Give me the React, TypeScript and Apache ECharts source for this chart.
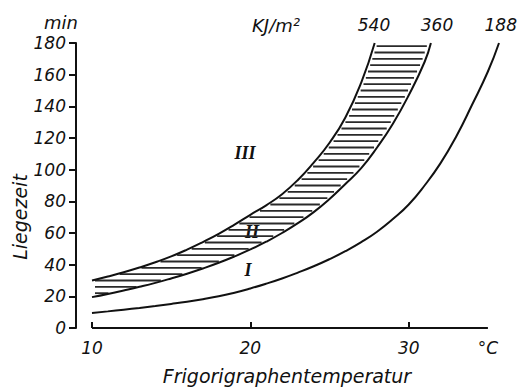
import React, { useEffect, useRef } from "react";
import * as echarts from "echarts";

// Curve data: temperature (°C) -> Liegezeit (min)
const TEMP_540 = [10, 11, 12, 13, 14, 15, 16, 17, 18, 19, 20, 21, 22, 23, 24, 25, 26, 27, 27.85];
const TIME_540 = [30, 32.5, 35.2, 38.2, 41.5, 45.2, 49.5, 54.3, 59.5, 65.3, 71.5, 77.5, 84.5, 93.5, 104.5, 117, 133, 155, 180];

const TEMP_360 = [10, 11, 12, 13, 14, 15, 16, 17, 18, 19, 20, 21, 22, 23, 24, 25, 26, 27, 28, 29, 30, 31, 31.4];
const TIME_360 = [19.5, 21.5, 23.7, 26, 28.5, 31.3, 34.3, 37.6, 41.2, 45.2, 49.6, 54.5, 60, 66.2, 73.2, 81.5, 91, 101, 114, 129, 147, 168, 180];

const TEMP_188 = [10, 11, 12, 13, 14, 15, 16, 17, 18, 19, 20, 21, 22, 23, 24, 25, 26, 27, 28, 29, 30, 31, 32, 33, 34, 35, 35.7];
const TIME_188 = [9.5, 10.5, 11.6, 12.7, 13.9, 15.2, 16.6, 18.2, 20, 22.3, 25, 28, 31.3, 35, 39, 43.5, 48.5, 54.2, 60.8, 68.8, 78, 90, 104, 121, 141, 162, 180];

// Axis extents
const X_MIN = 10;
const X_AXIS_END = 35;
const X_MAX = 35.7;
const X_TICKS = [10, 20, 30];
const Y_MIN = 0;
const Y_MAX = 180;
const Y_STEP = 20;

const CURVE_NAMES = ["540", "360", "188"];
const REGION_LABELS = ["III", "II", "I"];

const INK = "#111";
const FONT = "DejaVu Sans";

const HATCH_FROM = 22;
const HATCH_TO = 178;
const HATCH_STEP = 4;

function invert(xs: number[], ys: number[], y: number): number {
  if (y <= ys[0]) return xs[0];
  for (let i = 1; i < ys.length; i++) {
    if (y <= ys[i]) {
      const t = (y - ys[i - 1]) / (ys[i] - ys[i - 1]);
      return xs[i - 1] + t * (xs[i] - xs[i - 1]);
    }
  }
  return xs[xs.length - 1];
}

const pairs = (xs: number[], ys: number[]) => xs.map((x, i) => [x, ys[i]]);

export default function App() {
  const ref = useRef<HTMLDivElement>(null);
  useEffect(() => {
    if (!ref.current) return;
    const chart = echarts.init(ref.current, null, { renderer: "svg" });
    const numStyle = { fontFamily: FONT, fontStyle: "italic", fontSize: 17, color: INK };
    const wordStyle = { ...numStyle, fontSize: 18 };
    const titleStyle = { ...numStyle, fontSize: 19 };
    const curve = (name: string, xs: number[], ys: number[]) => ({
      type: "line",
      name,
      data: pairs(xs, ys),
      smooth: 0.5,
      symbol: "none",
      clip: false,
      lineStyle: { color: INK, width: 2 },
      z: 3,
    });
    chart.setOption({
      animation: false,
      backgroundColor: "#fff",
      grid: { left: 92, right: 20, top: 43, bottom: 62 },
      xAxis: {
        type: "value",
        min: X_MIN,
        max: X_MAX,
        interval: 10,
        axisLine: { show: false },
        axisTick: {
          show: true,
          inside: true,
          length: 6,
          customValues: X_TICKS,
          lineStyle: { color: INK, width: 2 },
        },
        axisLabel: {
          ...numStyle,
          margin: 11,
          customValues: [...X_TICKS, X_AXIS_END],
          formatter: (v: number) => (v === X_AXIS_END ? "°C" : String(v)),
        },
        splitLine: { show: false },
      },
      yAxis: {
        type: "value",
        min: Y_MIN,
        max: Y_MAX,
        interval: Y_STEP,
        offset: 16,
        axisLine: { show: true, lineStyle: { color: INK, width: 2 } },
        axisTick: { show: true, inside: false, length: 7, lineStyle: { color: INK, width: 2 } },
        axisLabel: { ...numStyle, margin: 10 },
        splitLine: { show: false },
      },
      graphic: [
        { type: "text", x: 61, y: 22, style: { text: "min", ...txt(wordStyle) } },
        { type: "text", x: 276, y: 25, style: { text: "KJ/m²", ...txt(wordStyle) } },
        { type: "text", x: 374, y: 25, style: { text: CURVE_NAMES[0], ...txt(numStyle) } },
        { type: "text", x: 437, y: 25, style: { text: CURVE_NAMES[1], ...txt(numStyle) } },
        {
          type: "text",
          x: 517,
          y: 25,
          style: { text: CURVE_NAMES[2], ...txt(numStyle), align: "right" },
        },
        {
          type: "text",
          x: 20,
          y: 217,
          rotation: Math.PI / 2,
          style: { text: "Liegezeit", ...txt(titleStyle) },
        },
        {
          type: "text",
          x: 287,
          y: 376,
          style: { text: "Frigorigraphentemperatur", ...txt(titleStyle) },
        },
        { type: "text", x: 245, y: 153, style: { text: REGION_LABELS[0], ...roman() } },
        { type: "text", x: 252, y: 232, style: { text: REGION_LABELS[1], ...roman() } },
        { type: "text", x: 248, y: 270, style: { text: REGION_LABELS[2], ...roman() } },
      ],
      series: [
        {
          // x axis line, from 10 to 35 °C at 0 min
          type: "line",
          data: [
            [X_MIN, Y_MIN],
            [X_AXIS_END, Y_MIN],
          ],
          symbol: "none",
          silent: true,
          lineStyle: { color: INK, width: 2 },
          z: 4,
        },
        {
          type: "custom",
          silent: true,
          z: 2,
          data: [[TEMP_540[0], TIME_540[0]]],
          renderItem: (_params: any, api: any) => {
            const children: any[] = [];
            for (let y = HATCH_FROM; y <= HATCH_TO; y += HATCH_STEP) {
              const xl = invert(TEMP_540, TIME_540, y);
              const xr = invert(TEMP_360, TIME_360, y);
              const p1 = api.coord([xl, y]);
              const p2 = api.coord([xr, y]);
              const a = p1[0] + 3;
              const b = p2[0] - 3;
              if (b - a < 2) continue;
              children.push({
                type: "line",
                shape: { x1: a, y1: p1[1], x2: b, y2: p2[1] },
                style: { stroke: "#2a2a2a", lineWidth: 1.8 },
              });
            }
            return { type: "group", children };
          },
        },
        curve(CURVE_NAMES[0], TEMP_540, TIME_540),
        curve(CURVE_NAMES[1], TEMP_360, TIME_360),
        curve(CURVE_NAMES[2], TEMP_188, TIME_188),
      ],
    });
    return () => chart.dispose();
  }, []);
  return (
    <div
      ref={ref}
      style={{ position: "fixed", left: 0, top: 0, width: 519, height: 390, background: "#fff" }}
    />
  );
}

function txt(t: any) {
  return {
    fill: t.color,
    font: `italic ${t.fontSize}px "${t.fontFamily}"`,
    align: "center",
    verticalAlign: "middle",
  };
}

function roman() {
  return {
    fill: INK,
    font: `italic bold 18px "Liberation Serif"`,
    align: "center",
    verticalAlign: "middle",
  };
}
